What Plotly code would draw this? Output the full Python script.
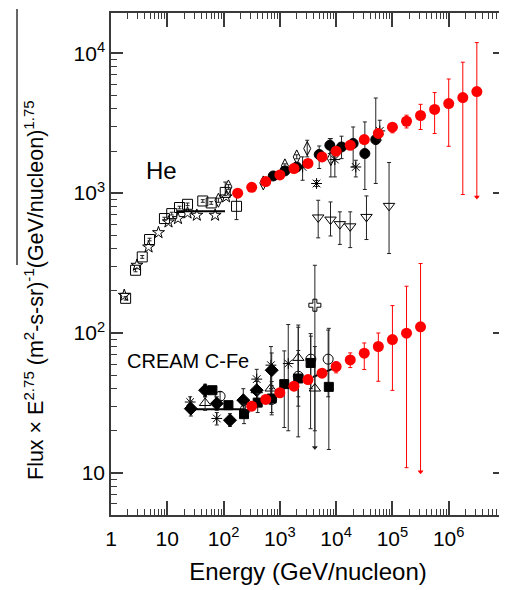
import numpy as np
import plotly.graph_objects as go

# ---------------- data (E in GeV/nucleon, flux x E^2.75) ----------------
# He, red filled circles
he_red_E = [178, 316, 562, 1000, 1780, 3160, 5620, 1.0e4, 1.78e4, 3.16e4, 5.62e4,
            1.0e5, 1.78e5, 3.16e5, 5.62e5, 1.0e6, 1.78e6, 3.16e6]
he_red_F = [1000, 1100, 1210, 1350, 1500, 1630, 1815, 1995, 2200, 2415, 2670,
            2960, 3265, 3590, 3965, 4365, 4820, 5320]
he_red_hi = [1030, 1130, 1245, 1385, 1540, 1675, 1865, 2055, 2265, 2490, 2760,
             3140, 3607, 4315, 5236, 6546, 8630, 11920]
he_red_lo = [970, 1070, 1175, 1315, 1460, 1585, 1765, 1935, 2135, 2340, 2580,
             2700, 2924, 2851, 2667, 2163, 977, 940]
he_red_limit = [0] * 17 + [1]

# C-Fe, red filled circles
cfe_red_E = [316, 562, 1000, 1780, 3160, 5620, 1.0e4, 1.78e4, 3.16e4, 5.62e4, 1.0e5, 1.78e5, 3.16e5]
cfe_red_F = [30.0, 33.5, 37.4, 41.7, 46.5, 51.6, 57.6, 64.2, 71.7, 80.1, 89.8, 99.7, 110.7]
cfe_red_hi = [31, 34.6, 38.6, 43.0, 48.0, 53.5, 62.1, 72.1, 84.9, 100, 157, 216, 314]
cfe_red_lo = [29, 32.4, 36.2, 40.4, 45.0, 49.8, 51.9, 56.6, 54.8, 45.2, 38.9, 10.9, 10.2]
cfe_red_limit = [0] * 12 + [1]

# He, open squares
he_sq_E = [1.82, 2.73, 3.59, 4.84, 8.9, 12.0, 16.5, 22.9, 42.7, 60.3, 107, 170]
he_sq_F = [177, 281, 350, 466, 658, 714, 789, 832, 879, 851, 1012, 805]
he_sq_hi = [182, 288, 358, 476, 672, 730, 806, 850, 898, 870, 1200, 966]
he_sq_lo = [172, 274, 342, 456, 644, 698, 772, 814, 860, 832, 960, 647]

# He, open stars
he_star_E = [1.72, 2.89, 4.65, 6.98, 10.5, 15.5, 22.9, 33.5, 70.8, 111]
he_star_F = [186, 305, 412, 522, 622, 658, 721, 695, 695, 940]

# He, straight line segment
he_line_E = [14.8, 106]
he_line_F = [743, 743]

# He, open diamonds
he_dia_E = [80.9, 122, 508, 1230, 1995, 3062, 8054]
he_dia_F = [889, 1107, 1183, 1567, 1816, 2084, 1766]
he_dia_hi = [920, 1150, 1220, 1620, 1880, 2388, 2455]
he_dia_lo = [860, 1065, 1150, 1515, 1760, 1816, 1306]

# He, black filled circles
he_bc_E = [764, 1230, 1986, 5000, 7727, 12470, 20050, 32360, 50580]
he_bc_F = [1327, 1442, 1538, 1888, 2198, 2138, 2265, 1919, 2415]
he_bc_hi = [1370, 1490, 1590, 2173, 2455, 2553, 2972, 3228, 4786]
he_bc_lo = [1285, 1395, 1490, 1500, 1919, 1766, 1538, 1062, 1172]

# He, asterisks
he_ast_E = [2535, 4487, 9484, 22340, 59570]
he_ast_F = [1538, 1172, 1738, 1538, 2786]
he_ast_hi = [1816, 1230, 2138, 1718, 3319]
he_ast_lo = [1236, 1115, 1306, 1306, 2388]

# He, open down triangles
he_tri_E = [4797, 7943, 11640, 17780, 34590, 87100]
he_tri_F = [670, 647, 600, 579, 676, 811]
he_tri_hi = [889, 865, 735, 735, 955, 1656]
he_tri_lo = [479, 494, 430, 408, 466, 370]

# C-Fe, filled diamonds
cfe_dia_E = [26.2, 47, 75.7, 130, 224, 388, 716]
cfe_dia_F = [28.8, 39, 31.3, 23.8, 33.1, 39, 54.2]
cfe_dia_hi = [32.5, 43, 35, 26.5, 40, 47, 72]
cfe_dia_lo = [25.5, 35, 28, 21.5, 27, 32, 40]

# C-Fe, filled squares
cfe_sq_E = [63.4, 122, 231, 404, 716, 1197, 2123, 3516, 7413]
cfe_sq_F = [39, 30.5, 26.3, 31.8, 34, 43.1, 47.3, 61.1, 41.2]
cfe_sq_hi = [41, 32, 31, 37, 45, 74.5, 114, 99, 108]
cfe_sq_lo = [37, 29, 22.5, 27, 26, 21.1, 18.1, 20.7, 14.7]

# C-Fe, open circles
cfe_oc_E = [86.7, 244, 716, 2123, 3556, 7211]
cfe_oc_F = [35.3, 28.5, 33.5, 49.1, 65.0, 65.0]
cfe_oc_hi = [38, 31, 42, 75, 95, 105]
cfe_oc_lo = [33, 26, 27, 30, 40, 35]

# C-Fe, open triangles
cfe_tri_E = [47, 388, 687, 2123, 4188]
cfe_tri_F = [31.6, 39, 40.1, 66.4, 40.1]
cfe_tri_hi = [35, 45, 52, 110, 80]
cfe_tri_lo = [28, 34, 31, 35, 20]

# C-Fe, asterisks
cfe_ast_E = [25.5, 75.7, 388, 695, 1409]
cfe_ast_F = [32.1, 24.5, 46.8, 58.9, 60.5]
cfe_ast_hi = [35, 27, 55, 80, 115]
cfe_ast_lo = [29, 22, 38, 40, 20]

# C-Fe, open cross (upper limit)
cfe_cross_E = [4188]
cfe_cross_F = [158]
cfe_cross_hi = [305]
cfe_cross_lo = [15.2]
cfe_cross_limit = [1]

# C-Fe, line segments
cfe_line1_E = [23.8, 240]
cfe_line1_F = [28.5, 28.5]
cfe_line2_E = [3876, 8770]
cfe_line2_F = [48.5, 55.7]

x_tick_vals = [1, 10, 100, 1e3, 1e4, 1e5, 1e6]
x_tick_text = ["1", "10", "10<sup>2</sup>", "10<sup>3</sup>", "10<sup>4</sup>", "10<sup>5</sup>", "10<sup>6</sup>"]
y_tick_vals = [10, 100, 1e3, 1e4]
y_tick_text = ["10", "10<sup>2</sup>", "10<sup>3</sup>", "10<sup>4</sup>"]

# ---------------- figure ----------------
FONT = "Liberation Sans, Arial, Helvetica, sans-serif"
AX = "#3a3a3a"
fig = go.Figure()


def series(E, F, hi=None, lo=None, symbol="circle", color="black", size=9,
           lw=1.0, ecolor="#222", limit=None):
    E = np.array(E, float)
    F = np.array(F, float)
    kw = {}
    if hi is not None:
        kw["error_y"] = dict(type="data", symmetric=False,
                             array=np.array(hi, float) - F,
                             arrayminus=F - np.array(lo, float),
                             thickness=1, width=2, color=ecolor)
    fig.add_trace(go.Scatter(x=E, y=F, mode="markers",
                             marker=dict(symbol=symbol, size=size, color=color,
                                         line=dict(width=lw, color=color)),
                             showlegend=False, hoverinfo="x+y", **kw))
    if limit is not None:
        m = np.array(limit) == 1
        fig.add_trace(go.Scatter(x=E[m], y=np.array(lo, float)[m], mode="markers",
                                 marker=dict(symbol="triangle-down", size=5, color=ecolor,
                                             line=dict(width=0)),
                                 showlegend=False, hoverinfo="skip"))


def line(E, F):
    fig.add_trace(go.Scatter(x=E, y=F, mode="lines", line=dict(color="black", width=2),
                             showlegend=False, hoverinfo="skip"))


# He black data
line(he_line_E, he_line_F)
series(he_sq_E, he_sq_F, he_sq_hi, he_sq_lo, symbol="square-open", size=10)
series(he_star_E, he_star_F, symbol="star-open", size=9)
series(he_dia_E, he_dia_F, he_dia_hi, he_dia_lo, symbol="diamond-tall-open", size=10)
series(he_bc_E, he_bc_F, he_bc_hi, he_bc_lo, symbol="circle", size=10)
series(he_ast_E, he_ast_F, he_ast_hi, he_ast_lo, symbol="asterisk-open", size=9)
series(he_tri_E, he_tri_F, he_tri_hi, he_tri_lo, symbol="triangle-down-open", size=10)

# C-Fe black data
line(cfe_line1_E, cfe_line1_F)
line(cfe_line2_E, cfe_line2_F)
series(cfe_cross_E, cfe_cross_F, cfe_cross_hi, cfe_cross_lo, symbol="cross-open", size=10,
       limit=cfe_cross_limit)
series(cfe_oc_E, cfe_oc_F, cfe_oc_hi, cfe_oc_lo, symbol="circle-open", size=10)
series(cfe_tri_E, cfe_tri_F, cfe_tri_hi, cfe_tri_lo, symbol="triangle-up-open", size=10)
series(cfe_ast_E, cfe_ast_F, cfe_ast_hi, cfe_ast_lo, symbol="asterisk-open", size=9)
series(cfe_dia_E, cfe_dia_F, cfe_dia_hi, cfe_dia_lo, symbol="diamond", size=10)
series(cfe_sq_E, cfe_sq_F, cfe_sq_hi, cfe_sq_lo, symbol="square", size=9)

# red data on top
RED = "#ff0000"
series(he_red_E, he_red_F, he_red_hi, he_red_lo, symbol="circle", color=RED, size=11,
       lw=0, ecolor=RED, limit=he_red_limit)
series(cfe_red_E, cfe_red_F, cfe_red_hi, cfe_red_lo, symbol="circle", color=RED, size=11,
       lw=0, ecolor=RED, limit=cfe_red_limit)

# empty trace to anchor the mirrored tick axes
fig.add_trace(go.Scatter(x=[], y=[], xaxis="x2", yaxis="y2", showlegend=False, hoverinfo="skip"))

minor_x = [m * 10 ** d for d in range(0, 7) for m in range(2, 10)]
minor_y = [m * 10 ** d for d in range(0, 5) for m in range(2, 10)]

xr = [0, 7]
yr = [np.log10(5.0), np.log10(19400)]

common_x = dict(type="log", range=xr, tickmode="array", tickvals=x_tick_vals,
                ticks="inside", ticklen=14, tickwidth=1.5, tickcolor=AX,
                showgrid=False, zeroline=False, automargin=False,
                minor=dict(ticks="inside", ticklen=6, tickwidth=1, tickcolor=AX,
                           tickmode="array", tickvals=minor_x, showgrid=False))
common_y = dict(type="log", range=yr, tickmode="array", tickvals=y_tick_vals,
                ticks="inside", ticklen=12, tickwidth=1.5, tickcolor=AX,
                showgrid=False, zeroline=False, automargin=False,
                minor=dict(ticks="inside", ticklen=6, tickwidth=1, tickcolor=AX,
                           tickmode="array", tickvals=minor_y, showgrid=False))

# page body adds an 8px offset; the figure is sized so it fits the window
W, H = 499, 582
L, R, T, B = 103, 2, 5, 75
PW, PH = W - L - R, H - T - B

fig.update_layout(
    width=W, height=H,
    margin=dict(l=L, r=R, t=T, b=B),
    paper_bgcolor="white", plot_bgcolor="white",
    font=dict(family=FONT, color="black", size=21),
    xaxis=dict(**common_x, ticktext=x_tick_text, showline=True, linewidth=1.5,
               linecolor=AX, mirror=True, tickfont=dict(size=21), ticklabelstandoff=4,
               title=dict(text="Energy (GeV/nucleon)", font=dict(size=24), standoff=14)),
    yaxis=dict(**common_y, ticktext=y_tick_text, showline=True, linewidth=1.5,
               linecolor=AX, mirror=True, tickfont=dict(size=21)),
    xaxis2=dict(**common_x, overlaying="x", side="top", anchor="y", showticklabels=False),
    yaxis2=dict(**common_y, overlaying="y", side="right", anchor="x", showticklabels=False),
    annotations=[
        dict(text="Flux × E<sup>2.75</sup> (m<sup>2</sup>-s-sr)<sup>-1</sup>(GeV/nucleon)<sup>1.75</sup>",
             textangle=-90, xref="paper", yref="paper",
             x=(26 - L) / PW, y=(T + PH - 282) / PH, xanchor="center", yanchor="middle",
             showarrow=False, font=dict(size=21.5)),
        dict(text="He", xref="paper", yref="paper", x=(153 - L) / PW, y=(T + PH - 162) / PH,
             showarrow=False, font=dict(size=24), xanchor="center", yanchor="middle"),
        dict(text="CREAM C-Fe", xref="paper", yref="paper", x=(180 - L) / PW, y=(T + PH - 353) / PH,
             showarrow=False, font=dict(size=20), xanchor="center", yanchor="middle"),
    ],
    shapes=[dict(type="line", xref="paper", yref="paper", x0=(9 - L) / PW, x1=(9 - L) / PW,
                 y0=(T + PH - 1) / PH, y1=(T + PH - 257) / PH,
                 line=dict(color="black", width=1.2))],
)

fig.write_html("out.html")
